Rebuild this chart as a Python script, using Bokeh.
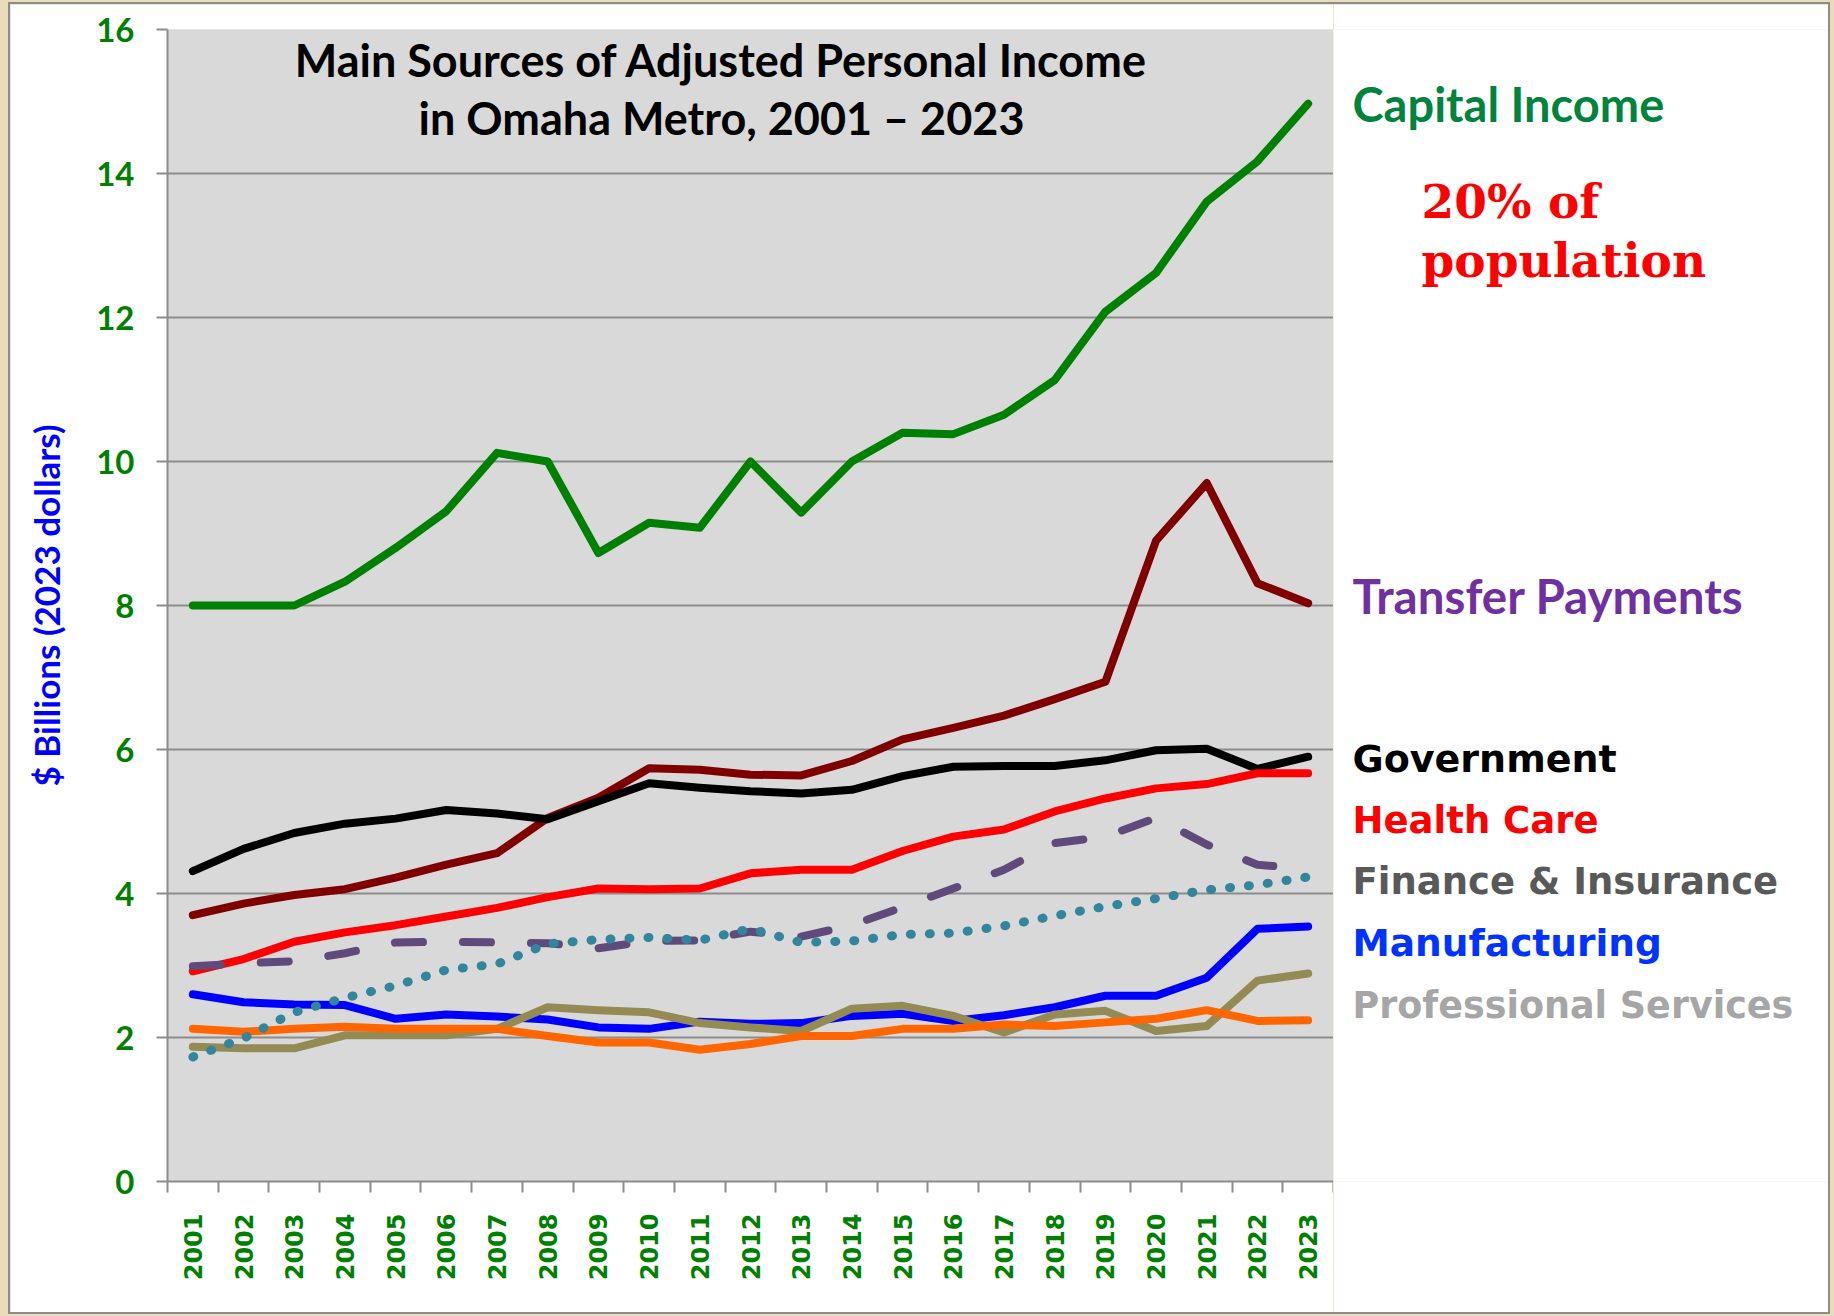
import math
from bokeh.plotting import figure
from bokeh.layouts import row
from bokeh.models import Range1d, FixedTicker, Label
from bokeh.embed import file_html
from bokeh.resources import INLINE

# ---------------- data ----------------
years = list(range(2001, 2024))
capital_income = [8.00, 8.00, 8.00, 8.33, 8.80, 9.31, 10.12, 10.00, 8.73, 9.15, 9.08, 10.00,
                  9.29, 10.00, 10.40, 10.38, 10.65, 11.13, 12.08, 12.62, 13.61, 14.17, 14.97]
transfer_payments = [3.70, 3.86, 3.98, 4.06, 4.22, 4.40, 4.56, 5.05, 5.33, 5.74, 5.72, 5.65,
                     5.64, 5.84, 6.14, 6.30, 6.47, 6.70, 6.94, 8.90, 9.70, 8.31, 8.03]
government = [4.31, 4.62, 4.84, 4.97, 5.04, 5.16, 5.11, 5.03, 5.28, 5.53, 5.47, 5.42,
              5.39, 5.44, 5.63, 5.76, 5.77, 5.77, 5.85, 5.99, 6.01, 5.73, 5.90]
health_care = [2.92, 3.09, 3.33, 3.46, 3.56, 3.68, 3.80, 3.95, 4.07, 4.06, 4.07, 4.28,
               4.33, 4.33, 4.59, 4.79, 4.89, 5.14, 5.32, 5.46, 5.52, 5.67, 5.67]
finance_insurance = [2.99, 3.03, 3.06, 3.17, 3.32, 3.33, 3.32, 3.31, 3.24, 3.34, 3.35, 3.47,
                     3.40, 3.56, 3.81, 4.07, 4.33, 4.70, 4.79, 5.05, 4.68, 4.40, 4.34]
other_dotted = [1.73, 1.99, 2.35, 2.55, 2.72, 2.94, 3.02, 3.30, 3.36, 3.39, 3.35, 3.51,
                3.32, 3.34, 3.43, 3.45, 3.55, 3.69, 3.82, 3.93, 4.05, 4.12, 4.23]
manufacturing = [2.60, 2.49, 2.46, 2.45, 2.26, 2.32, 2.29, 2.25, 2.14, 2.12, 2.22, 2.19,
                 2.20, 2.30, 2.33, 2.23, 2.31, 2.42, 2.58, 2.58, 2.83, 3.51, 3.54]
professional_services = [1.87, 1.85, 1.85, 2.03, 2.03, 2.03, 2.12, 2.42, 2.38, 2.35, 2.20, 2.14,
                         2.09, 2.40, 2.44, 2.30, 2.07, 2.32, 2.37, 2.09, 2.16, 2.79, 2.89]
other_orange = [2.12, 2.08, 2.12, 2.15, 2.12, 2.12, 2.12, 2.02, 1.93, 1.93, 1.83, 1.91,
                2.02, 2.02, 2.12, 2.12, 2.18, 2.16, 2.21, 2.26, 2.38, 2.23, 2.24]

y_ticks = [0, 2, 4, 6, 8, 10, 12, 14, 16]
title_lines = ["Main Sources of Adjusted Personal Income", "in Omaha Metro, 2001 \u2013 2023"]
y_label = "$ Billions (2023 dollars)"
side_labels = ["Capital Income", "Transfer Payments", "Government", "Health Care",
               "Finance & Insurance", "Manufacturing", "Professional Services"]
note_lines = ["20% of", "population"]

GRID = "#8c8c8c"
GREEN_TXT = "#008000"

p = figure(width=1323, height=1308, output_backend="svg", toolbar_location=None,
           x_range=Range1d(2000.5, 2023.5), y_range=Range1d(0, 16),
           min_border_left=157, min_border_right=0, min_border_top=25, min_border_bottom=131,
           background_fill_color="#d9d9d9", border_fill_color="white",
           outline_line_color=None)

# y axis
p.yaxis.ticker = FixedTicker(ticks=y_ticks)
p.yaxis.major_label_text_font = "Lato"
p.yaxis.major_label_text_font_size = "33px"
p.yaxis.major_label_text_font_style = "bold"
p.yaxis.major_label_text_color = GREEN_TXT
p.yaxis.major_tick_out = 11
p.yaxis.major_tick_in = 0
p.yaxis.minor_tick_line_color = None
p.yaxis.major_tick_line_color = GRID
p.yaxis.major_tick_line_width = 2
p.yaxis.axis_line_color = GRID
p.yaxis.axis_line_width = 2
p.yaxis.major_label_standoff = 22
p.yaxis.axis_label = y_label
p.yaxis.axis_label_text_font = "Lato"
p.yaxis.axis_label_text_font_size = "35px"
p.yaxis.axis_label_text_font_style = "bold"
p.yaxis.axis_label_text_color = "#0000ff"
p.yaxis.axis_label_standoff = 26

# x axis: labels at year centres, tick marks on category boundaries
p.xaxis.ticker = FixedTicker(ticks=years, minor_ticks=[y - 0.5 for y in years] + [years[-1] + 0.5])
p.xaxis.major_label_overrides = {y: str(y) for y in years}
p.xaxis.major_label_orientation = math.pi / 2
p.xaxis.major_label_text_font = "DejaVu Sans"
p.xaxis.major_label_text_font_size = "24px"
p.xaxis.major_label_text_font_style = "bold"
p.xaxis.major_label_text_color = GREEN_TXT
p.xaxis.major_tick_out = 0
p.xaxis.major_tick_in = 0
p.xaxis.major_tick_line_color = None
p.xaxis.minor_tick_out = 11
p.xaxis.minor_tick_in = 0
p.xaxis.minor_tick_line_color = GRID
p.xaxis.minor_tick_line_width = 2
p.xaxis.axis_line_color = GRID
p.xaxis.axis_line_width = 2
p.xaxis.major_label_standoff = 21

p.xgrid.visible = False
p.ygrid.grid_line_color = GRID
p.ygrid.grid_line_width = 2

# lines (bottom to top)
p.line(years, capital_income, line_color="#008000", line_width=8, line_join="round", line_cap="round")
p.line(years, transfer_payments, line_color="#800000", line_width=8, line_join="round", line_cap="round")
p.line(years, government, line_color="#000000", line_width=8, line_join="round", line_cap="round")
p.line(years, health_care, line_color="#ff0000", line_width=8, line_join="round", line_cap="round")
p.line(years, manufacturing, line_color="#0000ff", line_width=8, line_join="round", line_cap="round")
p.line(years, professional_services, line_color="#948a54", line_width=8, line_join="round", line_cap="round")
p.line(years, other_orange, line_color="#ff6600", line_width=8, line_join="round", line_cap="round")
p.line(years, finance_insurance, line_color="#604a7b", line_width=8, line_dash="28 40",
       line_join="round", line_cap="round")
p.line(years, other_dotted, line_color="#31859c", line_width=9, line_dash="1 18",
       line_join="round", line_cap="round")

# title inside the plot
for txt, yy in zip(title_lines, [1122, 1064]):
    p.add_layout(Label(x=554, y=yy, x_units="screen", y_units="screen", text=txt,
                       text_font="Lato", text_font_size="45px", text_font_style="bold",
                       text_color="black", text_align="center", text_baseline="alphabetic"))

# right-hand panel with the series names (frame aligned with the chart frame)
q = figure(width=495, height=1308, output_backend="svg", toolbar_location=None,
           x_range=Range1d(0, 1), y_range=Range1d(0, 1), x_axis_type=None, y_axis_type=None,
           min_border_left=0, min_border_right=0, min_border_top=25, min_border_bottom=131,
           background_fill_color="white", border_fill_color="white",
           outline_line_color=None)
q.grid.visible = False

side_styles = [
    ("#00843d", 1078, "Lato", "47px"),
    ("#7030a0", 586, "Lato", "47.5px"),
    ("#000000", 423, "DejaVu Sans", "38px"),
    ("#ff0000", 361, "DejaVu Sans", "37px"),
    ("#595959", 300, "DejaVu Sans", "37px"),
    ("#0033ff", 239, "DejaVu Sans", "37.5px"),
    ("#a6a6a6", 176, "DejaVu Sans", "36.5px"),
]
for txt, (col, yy, font, size) in zip(side_labels, side_styles):
    q.add_layout(Label(x=19, y=yy, x_units="screen", y_units="screen", text=txt,
                       text_font=font, text_font_size=size, text_font_style="bold",
                       text_color=col, text_baseline="alphabetic"))

for txt, yy in zip(note_lines, [980, 921]):
    q.add_layout(Label(x=88, y=yy, x_units="screen", y_units="screen", text=txt,
                       text_font="DejaVu Serif", text_font_size="47px", text_font_style="bold",
                       text_color="#ff0000", text_baseline="alphabetic"))

layout = row(p, q, spacing=0,
             styles={"margin-left": "10px", "margin-top": "4px", "outline": "2px solid #8c8c8c"})

html = file_html(layout, INLINE, title="Omaha personal income")
i = html.rfind("<body>")
if i >= 0:
    html = html[:i] + '<body style="background:#ebdcb9;">' + html[i + len("<body>"):]
open("out.html", "w").write(html)
